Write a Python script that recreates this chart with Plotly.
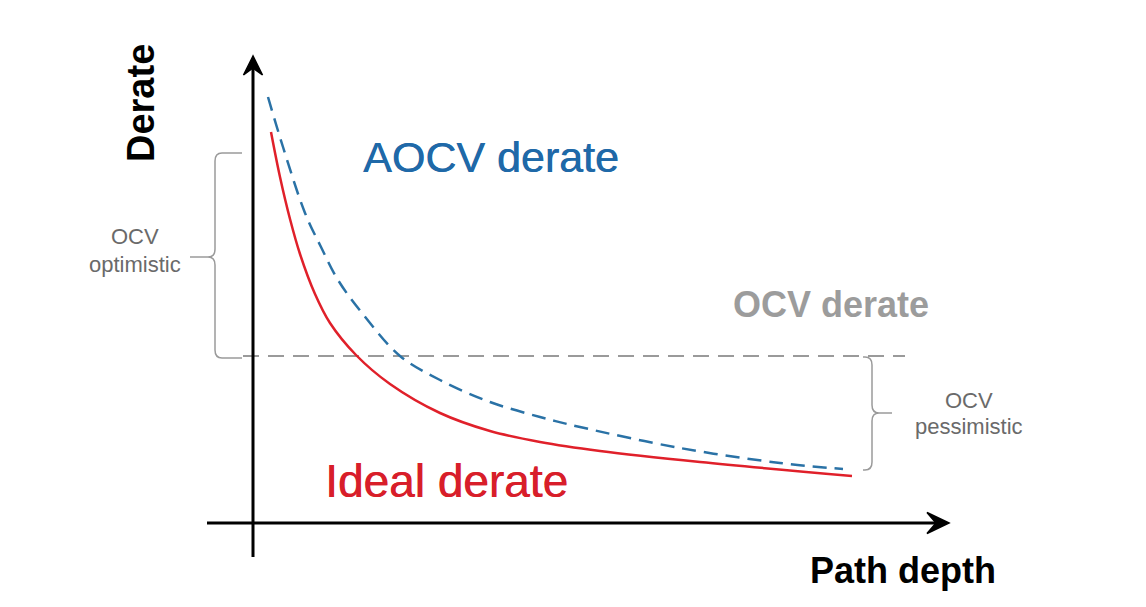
import plotly.graph_objects as go

# ---- data (path depth vs derate, arbitrary units) ----
ideal_x = [0.18, 0.27, 0.37, 0.47, 0.62, 0.77, 1.03, 1.37, 1.87, 2.37, 2.87, 3.47, 4.47, 5.99]
ideal_y = [3.91, 3.46, 3.04, 2.69, 2.29, 2.00, 1.68, 1.39, 1.10, 0.92, 0.81, 0.72, 0.61, 0.47]

aocv_x = [0.15, 0.30, 0.52, 0.68, 0.85, 1.09, 1.47, 1.87, 2.37, 2.87, 3.27, 4.27, 5.27, 5.90]
aocv_y = [4.26, 3.76, 3.10, 2.76, 2.43, 2.10, 1.67, 1.43, 1.21, 1.06, 0.96, 0.75, 0.60, 0.54]

ocv_x = [-0.10, 6.52]
ocv_level = 1.67

# braces: (tip x, spine x, point x, top y, mid y, bottom y)
brace_opt = (-0.11, -0.38, -0.63, 3.70, 2.66, 1.65)
brace_pes = (6.10, 6.19, 6.39, 1.66, 1.10, 0.53)

# axes extents
x_axis_span = [-0.46, 6.90]
y_axis_span = [-0.34, 4.60]

X_RANGE = [-2.53, 8.93]
Y_RANGE = [-0.84, 5.23]

fig = go.Figure()

fig.add_trace(go.Scatter(x=ocv_x, y=[ocv_level] * len(ocv_x), mode="lines",
                         line=dict(color="#9a9a9a", width=2, dash="16px,9px"),
                         hoverinfo="skip", showlegend=False))
fig.add_trace(go.Scatter(x=ideal_x, y=ideal_y, mode="lines", line_shape="spline",
                         line=dict(color="#e0202a", width=2.5),
                         hoverinfo="skip", showlegend=False))
fig.add_trace(go.Scatter(x=aocv_x, y=aocv_y, mode="lines", line_shape="spline",
                         line=dict(color="#2a72a6", width=2.5, dash="14px,8px"),
                         hoverinfo="skip", showlegend=False))


def brace_path(b, rx, ry):
    tip, spine, point, top, mid, bot = b
    s = 1 if tip > spine else -1  # direction of open side
    return (f"M {tip},{top} L {spine + s*rx},{top} Q {spine},{top} {spine},{top - ry} "
            f"L {spine},{mid + ry} Q {spine},{mid} {spine - s*rx},{mid} L {point},{mid} "
            f"M {spine - s*rx},{mid} Q {spine},{mid} {spine},{mid - ry} "
            f"L {spine},{bot + ry} Q {spine},{bot} {spine + s*rx},{bot} L {tip},{bot}")


shapes = []
for b in (brace_opt, brace_pes):
    shapes.append(dict(type="path", xref="x", yref="y", path=brace_path(b, 0.07, 0.08),
                       line=dict(color="#9a9a9a", width=1.5)))

# axes lines
shapes.append(dict(type="line", xref="x", yref="y", x0=0, x1=0,
                   y0=y_axis_span[0], y1=y_axis_span[1], line=dict(color="black", width=3)))
shapes.append(dict(type="line", xref="x", yref="y", x0=x_axis_span[0], x1=x_axis_span[1],
                   y0=0, y1=0, line=dict(color="black", width=3)))
# arrowheads
vt = y_axis_span[1]
shapes.append(dict(type="path", xref="x", yref="y",
                   path=f"M 0,{vt + 0.07} L -0.095,{vt - 0.12} L 0,{vt - 0.05} L 0.095,{vt - 0.12} Z",
                   fillcolor="black", line=dict(color="black", width=1.5)))
ht = x_axis_span[1]
shapes.append(dict(type="path", xref="x", yref="y",
                   path=f"M {ht + 0.06},0 L {ht - 0.16},0.105 L {ht - 0.07},0 L {ht - 0.16},-0.105 Z",
                   fillcolor="black", line=dict(color="black", width=1.5)))

FONT = "Liberation Sans, Arial, sans-serif"
ann = [
    dict(x=2.38, y=3.66, text="AOCV derate",
         font=dict(size=43, color="#1f69a8", family=FONT, shadow="0.6px 0 0 #1f69a8")),
    dict(x=5.78, y=2.19, text="<b>OCV derate</b>", font=dict(size=36, color="#9c9c9c", family=FONT)),
    dict(x=1.93, y=0.42, text="Ideal derate",
         font=dict(size=46, color="#d81e2a", family=FONT, shadow="0.6px 0 0 #d81e2a")),
    dict(x=-1.12, y=4.20, text="<b>Derate</b>", textangle=-90, font=dict(size=38, color="black", family=FONT)),
    dict(x=6.50, y=-0.47, text="<b>Path depth</b>", font=dict(size=36, color="black", family=FONT)),
    dict(x=-1.18, y=2.87, text="OCV", font=dict(size=22, color="#6a6a6a", family=FONT)),
    dict(x=-1.18, y=2.59, text="optimistic", font=dict(size=22, color="#6a6a6a", family=FONT)),
    dict(x=7.16, y=1.23, text="OCV", font=dict(size=22, color="#6a6a6a", family=FONT)),
    dict(x=7.16, y=0.97, text="pessimistic", font=dict(size=22, color="#6a6a6a", family=FONT)),
]
for a in ann:
    a.update(xref="x", yref="y", showarrow=False, xanchor="center", yanchor="middle")

fig.update_layout(
    width=1146, height=607,
    margin=dict(l=0, r=0, t=0, b=0),
    paper_bgcolor="white", plot_bgcolor="white",
    xaxis=dict(range=X_RANGE, visible=False, fixedrange=True),
    yaxis=dict(range=Y_RANGE, visible=False, fixedrange=True),
    shapes=shapes, annotations=ann, showlegend=False,
)

fig.write_html("out.html")
